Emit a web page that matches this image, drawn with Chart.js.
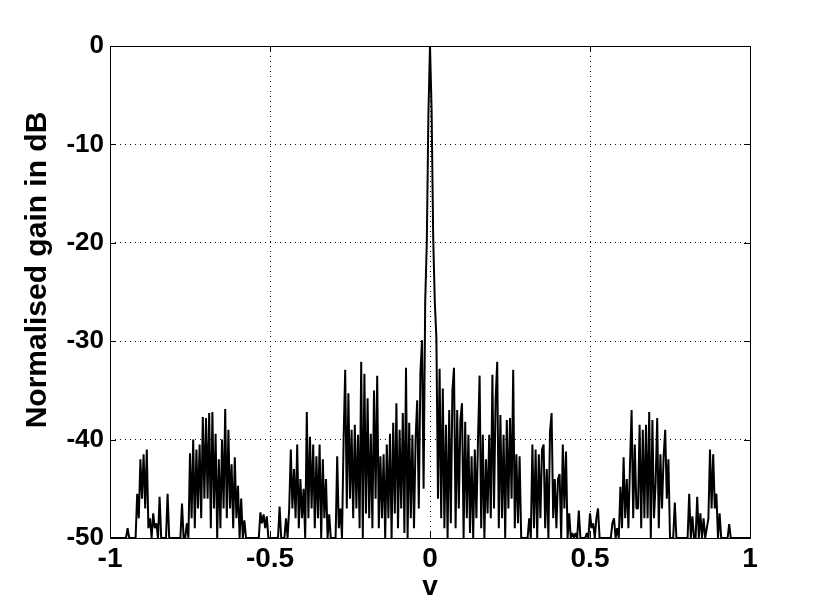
<!DOCTYPE html>
<html>
<head>
<meta charset="utf-8">
<script src="https://cdn.jsdelivr.net/npm/chart.js@4.4.0/dist/chart.umd.min.js"></script>
<style>
  html, body { margin: 0; padding: 0; background: #fff; }
  #wrap { width: 830px; height: 606px; }
</style>
</head>
<body>
<div id="wrap"><canvas id="gainChart" width="830" height="606"></canvas></div>
<script>
// sampling grid of v (one sample every 0.005)
var vStart = -1;
var vStep = 0.005;

// normalised gain in dB, one value per sample of v
var gainDb = [
  -50, -50, -50, -50, -50, -50, -50, -50, -50, -50,
  -50, -49, -50, -50, -50, -50, -50, -45.5, -48, -42,
  -46, -41.5, -47, -41, -49, -48, -50, -47.5, -49, -48.5,
  -50, -45.8, -50, -50, -50, -50, -45.5, -50, -50, -50,
  -50, -50, -50, -50, -50, -46.5, -50, -50, -48.5, -50,
  -41.4, -48, -40, -49, -41, -47, -40.5, -48, -37.7, -46,
  -37.8, -46, -37.3, -49, -37.2, -47, -39.4, -50, -42, -49,
  -40, -47, -36.9, -48, -39, -47, -42.5, -49, -41.8, -48,
  -44.7, -50, -46, -50, -48.2, -50, -50, -50, -50, -50,
  -50, -50, -50, -50, -47.4, -48.5, -47.6, -49, -47.8, -50,
  -50, -50, -50, -50, -50, -50, -46.8, -50, -50, -50,
  -48, -50, -47, -41, -47, -43, -48, -40.5, -49, -44,
  -48, -45, -50, -37.2, -48, -39.7, -47, -40.5, -49, -41.7,
  -48, -40.5, -50, -42, -48, -44, -50, -47.6, -50, -50,
  -50, -50, -41.7, -49, -47, -50, -40, -32.9, -47, -35.3,
  -46, -39, -48, -38.5, -47, -39.5, -49, -32.1, -50, -33.3,
  -47.5, -35.8, -48, -39.4, -49, -35, -46, -33.5, -49, -41.7,
  -48, -41.5, -50, -40.5, -48, -39.4, -50, -38.3, -47.5, -36.3,
  -49, -39, -47, -37.3, -49.5, -32.7, -50, -38.3, -48, -39.5,
  -49, -40, -36, -47, -33.2, -29.9, -45, -26, -20, -7,
  0, -6.5, -19.5, -26, -29.7, -46, -32.8, -48, -34.8, -49,
  -38.5, -50, -37, -48.5, -35, -32.7, -49, -37, -47, -38,
  -36.3, -50, -38.2, -48, -39.5, -49.5, -41.7, -50, -41, -48,
  -40, -33.5, -49, -39.5, -50, -42, -47.5, -39.5, -48, -33.4,
  -47, -36, -32.1, -49, -37.5, -48, -39.5, -50, -38, -47,
  -37.8, -46, -32.9, -49, -41.5, -48.5, -41.7, -50, -50, -50,
  -50, -50, -48, -50, -40.5, -49, -41, -50, -41.5, -48,
  -41, -40.5, -49, -43, -50, -39.2, -37.3, -48, -44, -49,
  -44, -43.5, -50, -40.5, -47, -41.2, -50, -47.5, -50, -49.5,
  -50, -49.5, -50, -47.2, -50, -50, -50, -50, -49.5, -50,
  -47.5, -49, -48.5, -50, -48, -47, -50, -50, -50, -50,
  -50, -50, -50, -50, -48.5, -48, -50, -49, -50, -44.8,
  -49, -41.8, -48, -44, -49, -42.5, -37, -48, -40.5, -47,
  -47, -38.5, -49, -39, -48, -38.5, -48, -37.2, -50, -38,
  -48, -44.5, -37.8, -49, -41.5, -47, -41.8, -39, -46, -42,
  -50, -50, -50, -46.4, -50, -50, -50, -50, -50, -50,
  -50, -50, -45.5, -50, -47.8, -50, -50, -45.8, -50, -47.5,
  -50, -48, -50, -49, -48, -41, -47, -41.5, -47, -45.5,
  -50, -47.5, -50, -50, -50, -50, -50, -48.6, -50, -50,
  -50, -50, -50, -50, -50, -50, -50, -50, -50, -50,
  -50
];

var xTicks = [-1, -0.5, 0, 0.5, 1];
var yTicks = [-50, -40, -30, -20, -10, 0];
var yTitle = 'Normalised gain in dB';

var points = gainDb.map(function (g, i) {
    return { x: Math.round((vStart + i * vStep) * 1000) / 1000, y: g };
});

var FONT = 'Liberation Sans, Arial, Helvetica, sans-serif';

// box round the plot, the small inward tick marks and the y title
var boxPlugin = {
    id: 'box',
    afterDatasetsDraw: function (chart) {
        var ctx = chart.ctx;
        var a = chart.chartArea;
        var xs = chart.scales.x, ys = chart.scales.y;
        ctx.save();
        ctx.strokeStyle = '#000';
        ctx.lineWidth = 1;
        ctx.setLineDash([]);
        ctx.strokeRect(Math.round(a.left) + 0.5, Math.round(a.top) + 0.5,
            Math.round(a.right - a.left), Math.round(a.bottom - a.top));
        ctx.beginPath();
        xTicks.forEach(function (t) {
            var px = Math.round(xs.getPixelForValue(t)) + 0.5;
            ctx.moveTo(px, a.bottom); ctx.lineTo(px, a.bottom - 6);
            ctx.moveTo(px, a.top); ctx.lineTo(px, a.top + 6);
        });
        yTicks.forEach(function (t) {
            var py = Math.round(ys.getPixelForValue(t)) + 0.5;
            ctx.moveTo(a.left, py); ctx.lineTo(a.left + 6, py);
            ctx.moveTo(a.right, py); ctx.lineTo(a.right - 6, py);
        });
        ctx.stroke();

        // y title sits a bit above the middle of the axis, as in the figure
        ctx.translate(38, 270);
        ctx.rotate(-Math.PI / 2);
        ctx.fillStyle = '#000';
        ctx.font = 'bold 30px ' + FONT;
        ctx.textAlign = 'center';
        ctx.textBaseline = 'middle';
        ctx.fillText(yTitle, 0, 0);
        ctx.restore();
    }
};

var ctx = document.getElementById('gainChart').getContext('2d');
var gainChart = new Chart(ctx, {
    type: 'line',
    data: {
        datasets: [{
            label: 'Normalised gain',
            data: points,
            borderColor: '#000',
            borderWidth: 2,
            borderJoinStyle: 'bevel',
            pointRadius: 0,
            tension: 0,
            fill: false
        }]
    },
    options: {
        responsive: false,
        animation: false,
        devicePixelRatio: 1,
        layout: { padding: { top: 46, right: 80, left: 0, bottom: 0 } },
        plugins: {
            legend: { display: false },
            tooltip: { enabled: false }
        },
        scales: {
            x: {
                type: 'linear',
                min: -1,
                max: 1,
                afterFit: function (s) { s.height = 68; },
                afterBuildTicks: function (s) { s.ticks = xTicks.map(function (v) { return { value: v }; }); },
                ticks: {
                    color: '#000',
                    padding: 4,
                    maxRotation: 0,
                    callback: function (v) { return String(v); },
                    font: { family: FONT, size: 28, weight: 'bold' }
                },
                grid: { color: '#000', lineWidth: 1, drawTicks: false },
                border: { display: false, dash: [1, 4] },
                title: {
                    display: true,
                    text: 'v',
                    color: '#000',
                    padding: { top: 0, bottom: 2 },
                    font: { family: FONT, size: 28, weight: 'bold' }
                }
            },
            y: {
                min: -50,
                max: 0,
                afterFit: function (s) { s.width = 110; },
                afterBuildTicks: function (s) { s.ticks = yTicks.map(function (v) { return { value: v }; }); },
                ticks: {
                    color: '#000',
                    padding: 6,
                    font: { family: FONT, size: 26, weight: 'bold' }
                },
                grid: { color: '#000', lineWidth: 1, drawTicks: false },
                border: { display: false, dash: [1, 4] },
                title: { display: false }
            }
        }
    },
    plugins: [boxPlugin]
});
</script>
</body>
</html>
